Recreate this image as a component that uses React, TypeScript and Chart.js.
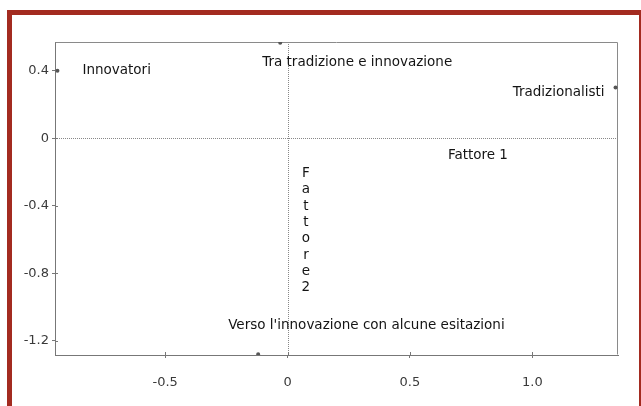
import React, { useEffect, useRef } from "react";
import { Chart, registerables } from "chart.js";

Chart.register(...registerables);

const groupLabels = [
  "Innovatori",
  "Tra tradizione e innovazione",
  "Tradizionalisti",
  "Verso l'innovazione con alcune esitazioni",
];
const factor1 = [-0.94, -0.03, 1.34, -0.12];
const factor2 = [0.4, 0.565, 0.3, -1.28];

const xTicks = [-0.5, 0, 0.5, 1.0];
const xTickLabels = ["-0.5", "0", "0.5", "1.0"];
const yTicks = [0.4, 0, -0.4, -0.8, -1.2];
const yTickLabels = ["0.4", "0", "-0.4", "-0.8", "-1.2"];

const axis1Title = "Fattore 1";
const axis1TitlePos = [0.655, -0.1];
const axis2Title = "Fattore2";
const axis2TitlePos = [0.075, -0.21];

const FONT = "DejaVu Sans";

const labelPlugin = {
  id: "labels",
  beforeDatasetsDraw(chart: any) {
    const { ctx, chartArea, scales } = chart;
    const xs = scales.x;
    const ys = scales.y;
    ctx.save();
    ctx.strokeStyle = "#8a8a8a";
    ctx.lineWidth = 1;
    ctx.setLineDash([]);
    ctx.beginPath();
    ctx.moveTo(chartArea.left + 0.5, chartArea.top + 0.5);
    ctx.lineTo(chartArea.right - 0.5, chartArea.top + 0.5);
    ctx.lineTo(chartArea.right - 0.5, chartArea.bottom - 0.5);
    ctx.stroke();
    ctx.strokeStyle = "#888";
    ctx.setLineDash([1, 1]);
    const x0 = Math.round(xs.getPixelForValue(0)) + 0.5;
    const y0 = Math.round(ys.getPixelForValue(0)) + 0.5;
    ctx.beginPath();
    ctx.moveTo(x0, chartArea.top);
    ctx.lineTo(x0, chartArea.bottom);
    ctx.moveTo(chartArea.left, y0);
    ctx.lineTo(chartArea.right, y0);
    ctx.stroke();
    ctx.setLineDash([]);
    ctx.strokeStyle = "#777";
    ctx.beginPath();
    xTicks.forEach((v) => {
      const px = Math.round(xs.getPixelForValue(v)) + 0.5;
      ctx.moveTo(px, chartArea.bottom);
      ctx.lineTo(px, chartArea.bottom - 3);
    });
    yTicks.forEach((v) => {
      const py = Math.round(ys.getPixelForValue(v)) + 0.5;
      ctx.moveTo(chartArea.left, py);
      ctx.lineTo(chartArea.left + 3, py);
    });
    ctx.stroke();
    ctx.restore();
  },
  afterDatasetsDraw(chart: any) {
    const { ctx, scales } = chart;
    const xs = scales.x;
    const ys = scales.y;
    ctx.save();
    ctx.fillStyle = "#141414";
    ctx.font = `13.5px "${FONT}"`;
    ctx.textBaseline = "middle";
    const offsets = [
      [25, 0, "left"],
      [-18, 20, "left"],
      [-11, 5, "right"],
      [-30, -29, "left"],
    ];
    groupLabels.forEach((t, i) => {
      const px = xs.getPixelForValue(factor1[i]);
      const py = ys.getPixelForValue(factor2[i]);
      const [dx, dy, al] = offsets[i] as [number, number, CanvasTextAlign];
      ctx.textAlign = al;
      ctx.fillText(t, px + dx, py + dy);
    });
    ctx.textAlign = "left";
    ctx.fillText(
      axis1Title,
      xs.getPixelForValue(axis1TitlePos[0]),
      ys.getPixelForValue(axis1TitlePos[1])
    );
    ctx.textAlign = "center";
    const ax = xs.getPixelForValue(axis2TitlePos[0]);
    const ay = ys.getPixelForValue(axis2TitlePos[1]);
    axis2Title.split("").forEach((c, i) => {
      ctx.fillText(c, ax, ay + i * 16.3);
    });
    ctx.restore();
  },
};

export default function App() {
  const ref = useRef<HTMLCanvasElement>(null);
  useEffect(() => {
    if (!ref.current) return;
    const chart = new Chart(ref.current, {
      type: "scatter",
      data: {
        datasets: [
          {
            label: "Gruppi",
            data: factor1.map((x, i) => ({ x, y: factor2[i] })),
            pointRadius: 2,
            pointBackgroundColor: "#555",
            pointBorderColor: "#555",
            pointBorderWidth: 0,
          },
        ],
      },
      options: {
        responsive: false,
        animation: false,
        events: [],
        layout: { padding: { left: 0, top: 42, right: 23, bottom: 0 } },
        plugins: {
          legend: { display: false },
          tooltip: { enabled: false },
          title: { display: false },
        },
        scales: {
          x: {
            type: "linear",
            min: -0.95,
            max: 1.35,
            afterBuildTicks: (s: any) => {
              s.ticks = xTicks.map((v) => ({ value: v }));
            },
            afterFit: (s: any) => {
              s.height = 51;
            },
            grid: {
              drawOnChartArea: false,
              drawTicks: true,
              tickLength: 3,
              tickColor: "#777",
            },
            border: { display: true, color: "#777", width: 1 },
            ticks: {
              autoSkip: false,
              maxRotation: 0,
              padding: 17,
              color: "#3a3a3a",
              font: { family: FONT, size: 13 },
              callback: (v: any) => {
                const i = xTicks.indexOf(Number(v));
                return i >= 0 ? xTickLabels[i] : "";
              },
            },
          },
          y: {
            type: "linear",
            min: -1.285,
            max: 0.57,
            afterBuildTicks: (s: any) => {
              s.ticks = yTicks.map((v) => ({ value: v }));
            },
            afterFit: (s: any) => {
              s.width = 55;
            },
            grid: {
              drawOnChartArea: false,
              drawTicks: true,
              tickLength: 3,
              tickColor: "#777",
            },
            border: { display: true, color: "#777", width: 1 },
            ticks: {
              autoSkip: false,
              padding: 3,
              color: "#3a3a3a",
              font: { family: FONT, size: 13 },
              callback: (v: any) => {
                const i = yTicks.indexOf(Number(v));
                return i >= 0 ? yTickLabels[i] : "";
              },
            },
          },
        },
      },
      plugins: [labelPlugin],
    });
    return () => chart.destroy();
  }, []);
  return (
    <div
      style={{
        position: "fixed",
        left: 0,
        top: 0,
        width: 641,
        height: 406,
        background: "#fff",
        overflow: "hidden",
      }}
    >
      <canvas
        ref={ref}
        width={641}
        height={406}
        style={{ position: "absolute", left: 0, top: 0, width: 641, height: 406 }}
      />
      <div
        style={{
          position: "absolute",
          left: 7,
          top: 10,
          width: 634,
          height: 396,
          boxSizing: "border-box",
          borderTop: "5px solid #a32b20",
          borderLeft: "5px solid #a32b20",
          borderRight: "2px solid #a32b20",
          pointerEvents: "none",
        }}
      />
    </div>
  );
}
